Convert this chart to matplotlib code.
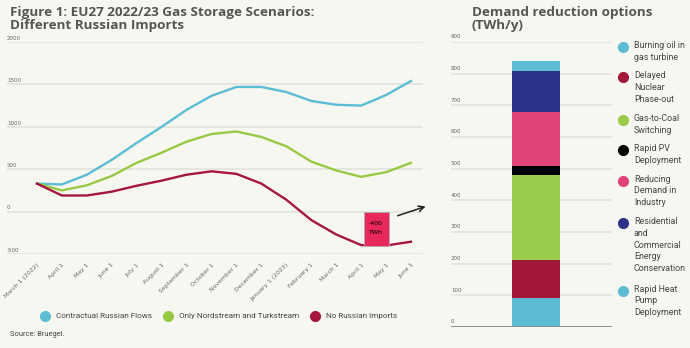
import matplotlib
matplotlib.use('Agg')
import matplotlib.pyplot as plt
import matplotlib.transforms as mtransforms
from matplotlib.lines import Line2D
from matplotlib.patches import Rectangle

months = ["March 1 (2022)", "April 1", "May 1", "June 1", "July 1", "August 1",
          "September 1", "October 1", "November 1", "December 1", "January 1 (2023)",
          "February 1", "March 1", "April 1", "May 1", "June 1"]
contractual = [330, 320, 435, 610, 810, 1000, 1200, 1365, 1470, 1470, 1410, 1305, 1260, 1250, 1375, 1540]
nordstream = [330, 250, 310, 420, 575, 695, 825, 915, 945, 880, 770, 590, 485, 410, 465, 575]
no_russian = [330, 190, 190, 235, 305, 365, 435, 475, 445, 330, 140, -100, -270, -395, -400, -355]
series_names = ["Contractual Russian Flows", "Only Nordstream and Turkstream", "No Russian Imports"]
series_colors = ["#5bbdd4", "#98c944", "#a5173d"]
left_yticks = [-500, 0, 500, 1000, 1500, 2000]

# bar stack, bottom to top
options = ["Rapid Heat\nPump\nDeployment", "Delayed\nNuclear\nPhase-out", "Gas-to-Coal\nSwitching",
           "Rapid PV\nDeployment", "Reducing\nDemand in\nIndustry",
           "Residential\nand\nCommercial\nEnergy\nConservation", "Burning oil in\ngas turbine"]
option_values = [92, 119, 269, 29, 170, 129, 32]
option_colors = ["#5dbcd2", "#a31738", "#9acb4a", "#000000", "#e14378", "#2e338a", "#5dbcd2"]
legend_order = [6, 1, 2, 3, 4, 5, 0]
right_yticks = list(range(0, 901, 100))

label_font = ['Roboto', 'DejaVu Sans']
bg = "#f7f7f2"
grid_c = "#e3e3de"
tick_c = "#666666"
W, H = 690, 348

fig = plt.figure(figsize=(W / 100, H / 100), dpi=100, facecolor=bg)

# ---- left line chart
ax = fig.add_axes([7 / W, 1 - 254 / H, 416 / W, 212 / H], facecolor=bg)
x = list(range(len(months)))
for vals, c in zip([contractual, nordstream, no_russian], series_colors):
    ax.plot(x, vals, color=c, lw=1.7, zorder=3)
ax.set_xlim(-1.2, 15.48)
ax.set_ylim(-500, 2000)
for s in ax.spines.values():
    s.set_visible(False)
ax.set_yticks(left_yticks)
ax.set_yticklabels([])
ax.tick_params(length=0)
ax.grid(axis='y', color=grid_c, lw=1.2, zorder=0)
blend = mtransforms.blended_transform_factory(ax.transAxes, ax.transData)
for v in left_yticks:
    ax.text(0, v + 15, str(v), transform=blend, va='bottom', ha='left', fontsize=4, color=tick_c)
ax.set_xticks(x)
ax.set_xticklabels(months, rotation=45, ha='right', rotation_mode='anchor', fontsize=4.4,
                   color=tick_c)
ax.tick_params(axis='x', pad=6)

ax.add_patch(Rectangle((13.1, -400), 1.0, 400, fc="#e8285a", ec="#b0b0b0", lw=0.6, zorder=4))
ax.text(13.6, -190, "-400\nTWh", ha='center', va='center', fontsize=4.5, linespacing=1.9, zorder=5)
ax.annotate('', xy=(15.69, 71), xytext=(14.36, -59), annotation_clip=False,
            arrowprops=dict(arrowstyle='->', color='#222222', lw=1.1))

handles = [Line2D([], [], marker='o', ls='', ms=7, color=c) for c in series_colors]
fig.legend(handles, series_names, ncol=3, loc='center', bbox_to_anchor=(217 / W, 1 - 316 / H),
           frameon=False, prop={'family': label_font, 'size': 5.9}, handletextpad=0.3,
           columnspacing=1.0, labelcolor='#444444')

fig.text(10 / W, 1 - 6 / H, "Figure 1: EU27 2022/23 Gas Storage Scenarios:\nDifferent Russian Imports",
         ha='left', va='top', fontsize=9.7, fontweight='bold', family='Open Sans',
         color='#555555', linespacing=0.95)
fig.text(10 / W, 1 - 335 / H, "Source: Bruegel.", ha='left', va='center', fontsize=5.4,
         family=label_font, color='#444444')

# ---- right stacked bar
ax2 = fig.add_axes([451 / W, 1 - 327 / H, 161 / W, 285 / H], facecolor=bg)
bottom = 0
for v, c in zip(option_values, option_colors):
    ax2.bar(0.528, v, width=0.298, bottom=bottom, color=c, zorder=3)
    bottom += v
ax2.set_xlim(0, 1)
ax2.set_ylim(0, 900)
for s in ax2.spines.values():
    s.set_visible(False)
ax2.set_xticks([])
ax2.set_yticks(right_yticks)
ax2.set_yticklabels([])
ax2.tick_params(length=0)
ax2.grid(axis='y', color=grid_c, lw=1.2, zorder=0)
ax2.axhline(0, color='#8a8a8a', lw=1.3, zorder=4)
blend2 = mtransforms.blended_transform_factory(ax2.transAxes, ax2.transData)
for v in right_yticks:
    ax2.text(0, v + 8, str(v), transform=blend2, va='bottom', ha='left', fontsize=4, color=tick_c)

fig.text(472 / W, 1 - 6 / H, "Demand reduction options\n(TWh/y)", ha='left', va='top',
         fontsize=9.7, fontweight='bold', family='Open Sans', color='#555555', linespacing=0.95)

line_h = 12.4
y = 47
for i in legend_order:
    fig.add_artist(Line2D([623 / W], [1 - y / H], marker='o', ms=7, color=option_colors[i],
                          transform=fig.transFigure))
    fig.text(634 / W, 1 - (y - 6) / H, options[i], ha='left', va='top', fontsize=6.4,
             family=label_font, color='#444444', linespacing=1.38)
    y += options[i].count('\n') * line_h + line_h + 5.5

fig.savefig('out.png', dpi=100, facecolor=bg)
